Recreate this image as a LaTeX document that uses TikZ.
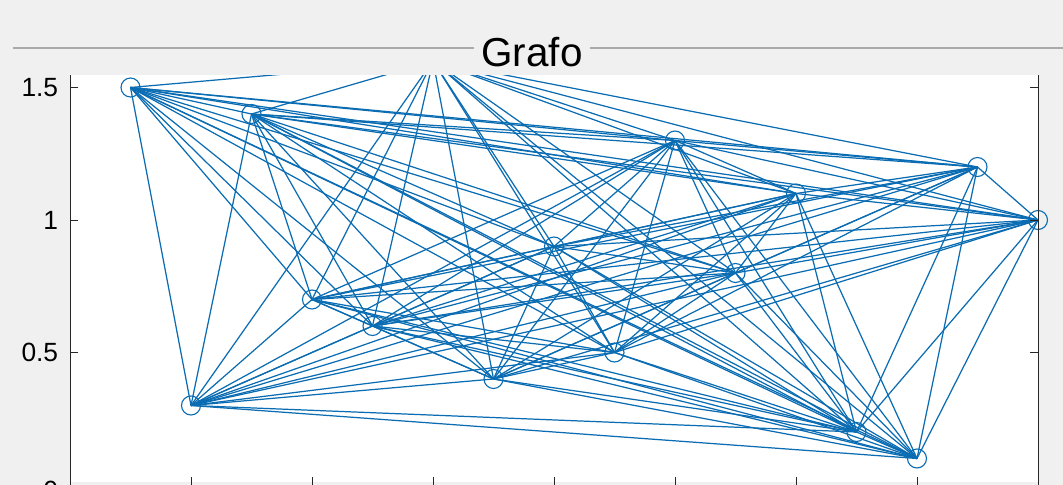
\documentclass[tikz,border=0pt]{standalone}
\usepackage{fontspec}
\setmainfont{Liberation Sans}

\definecolor{matblue}{RGB}{10,108,178}
\definecolor{figgray}{RGB}{240,240,240}
\definecolor{axgray}{RGB}{38,38,38}
\definecolor{panelline}{RGB}{170,170,170}

\tikzset{
  vertex/.style={circle,draw=matblue,line width=0.65pt,minimum size=0.38cm,inner sep=0pt},
  edge/.style={draw=matblue,line width=0.7pt},
  axisline/.style={draw=axgray,line width=0.55pt},
  ticklabel/.style={anchor=east,inner sep=0pt,font=\fontsize{15}{15}\selectfont}
}

\begin{document}
\begin{tikzpicture}
  \clip (0,0) rectangle (21.26,9.70);
  \fill[figgray] (0,0) rectangle (21.26,9.70);
  \fill[white] (1.40,0.06) rectangle (20.76,8.2);

  % vertices
  \begin{scope}[shift={(1.40,0)},x=2.42cm,y=5.3cm]
    \foreach \i/\vx/\vy in {1/0.5/1.5, 2/1/0.3, 3/1.5/1.4, 4/2/0.7, 5/2.5/0.6,
        6/3/1.6, 7/3.5/0.4, 8/4/0.9, 9/4.5/0.5, 10/5/1.3, 11/5.5/0.8,
        12/6/1.1, 13/6.5/0.2, 14/7/0.1, 15/7.5/1.2, 16/8/1.0}
      \node[vertex] (n\i) at (\vx,\vy) {};
  \end{scope}

  % edges
  \begin{scope}
    \clip (0,0) rectangle (21.26,8.2);
    \foreach \i in {1,...,15}{
      \pgfmathtruncatemacro{\k}{\i+1}
      \foreach \j in {\k,...,16}
        \draw[edge] (n\i.center) -- (n\j.center);
    }
  \end{scope}

  % axes
  \draw[axisline] (1.40,0) -- (1.40,8.2);
  \draw[axisline] (20.76,0) -- (20.76,8.2);
  \foreach \t in {1,...,7}
    \draw[axisline] (1.40+2.42*\t,0) -- (1.40+2.42*\t,0.16);
  \foreach \t in {0.5,1,1.5}{
    \draw[axisline] (1.40,5.3*\t) -- (1.56,5.3*\t);
    \draw[axisline] (20.76,5.3*\t) -- (20.60,5.3*\t);
  }
  \node[ticklabel] (y0) at (1.17,-0.1) {0};
  \node[ticklabel] (y05) at (1.17,2.65) {0.5};
  \node[ticklabel] (y1) at (1.17,5.3) {1};
  \node[ticklabel] (y15) at (1.17,7.95) {1.5};

  % panel
  \fill[figgray] (0,8.2) rectangle (21.26,9.70);
  \draw[panelline,line width=0.8pt] (0.26,8.74) -- (21.26,8.74);
  \node[fill=figgray,anchor=base,inner xsep=0.15cm,inner ysep=2pt,
    font=\fontsize{23}{23}\selectfont] (title) at (10.64,8.36) {Grafo};
\end{tikzpicture}
\end{document}
